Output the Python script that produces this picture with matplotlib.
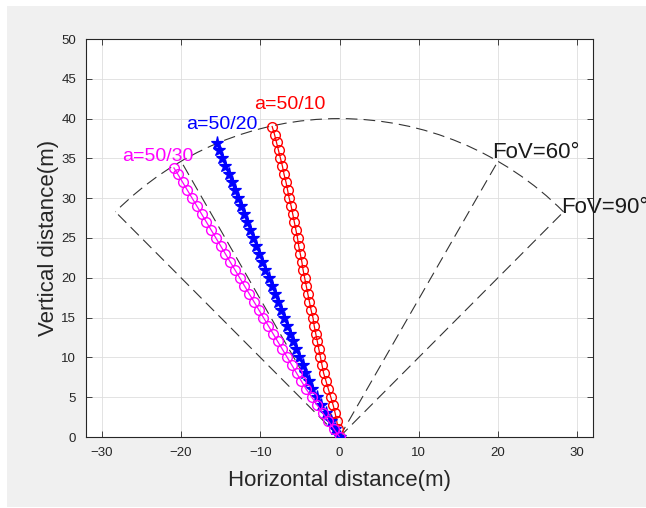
import numpy as np
import matplotlib.pyplot as plt
from matplotlib.patches import Arc, Rectangle

y_red = [0, 1, 2, 3, 4, 5, 6, 7, 8, 9, 10, 11, 12, 13, 14, 15, 16, 17, 18, 19,
         20, 21, 22, 23, 24, 25, 26, 27, 28, 29, 30, 31, 32, 33, 34, 35, 36, 37, 38, 39]
x_red = [0, -0.15, -0.35, -0.55, -0.8, -1.1, -1.4, -1.7, -2.0, -2.2,
         -2.4, -2.6, -2.8, -3.0, -3.2, -3.35, -3.6, -3.8, -4.0, -4.2,
         -4.4, -4.6, -4.75, -4.95, -5.15, -5.3, -5.5, -5.7, -5.9, -6.1,
         -6.35, -6.55, -6.75, -7.0, -7.2, -7.45, -7.7, -7.95, -8.2, -8.5]

y_blue = [0, 1, 2, 3, 4, 5, 6, 7, 8, 9, 10, 11, 12, 13, 14, 15, 16, 17, 18, 19,
          20, 21, 22, 23, 24, 25, 26, 27, 28, 29, 30, 31, 32, 33, 34, 35, 36, 36.9]
x_blue = [0, -0.55, -1.1, -1.7, -2.3, -2.9, -3.45, -3.9, -4.3, -4.65,
          -5.05, -5.45, -5.85, -6.2, -6.6, -7.0, -7.4, -7.8, -8.15, -8.55,
          -8.95, -9.35, -9.75, -10.1, -10.5, -10.9, -11.3, -11.7, -12.05, -12.45,
          -12.85, -13.25, -13.6, -14.0, -14.4, -14.8, -15.15, -15.5]

y_mag = [0, 1, 2, 3, 4, 5, 6, 7, 8, 9, 10, 11, 12, 13, 14, 15, 16, 17,
         18, 19, 20, 21, 22, 23, 24, 25, 26, 27, 28, 29, 30, 31, 32, 33, 33.8]
x_mag = [0, -0.7, -1.4, -2.1, -2.8, -3.5, -4.2, -4.8, -5.4, -6.0,
         -6.6, -7.2, -7.8, -8.4, -9.0, -9.6, -10.2, -10.8, -11.4, -12.0,
         -12.6, -13.2, -13.8, -14.4, -15.0, -15.6, -16.2, -16.8, -17.4, -18.0,
         -18.6, -19.2, -19.8, -20.4, -20.9]

# field of view
fov_radius = 40
fov_angles = [60, 90]

plt.rcParams['font.family'] = ['Liberation Sans', 'DejaVu Sans']

fig = plt.figure(figsize=(6.46, 5.08), dpi=100, facecolor='white')
fig.patches.append(Rectangle((7 / 646, 1 / 508), 1, (508 - 7) / 508,
                             transform=fig.transFigure, facecolor='#f0f0f0',
                             edgecolor='none', zorder=-10))
ax = fig.add_axes([86 / 646, 71 / 508, 507 / 646, 398 / 508])

dash = (0, (10.5, 5.5))
for fov in fov_angles:
    half = np.radians(fov / 2)
    for s in (-1, 1):
        ax.plot([0, s * fov_radius * np.sin(half)], [0, fov_radius * np.cos(half)],
                color='#333333', lw=0.8, linestyle=dash, zorder=3)
ax.add_patch(Arc((0, 0), 2 * fov_radius, 2 * fov_radius, theta1=45, theta2=135,
                 color='#333333', lw=0.8, linestyle=dash, zorder=3))

ax.plot(x_red, y_red, '-o', color='red', mfc='none', ms=7, mew=1.0, lw=0.9, zorder=4)
ax.plot(x_blue, y_blue, '-*', color='blue', ms=9.5, mew=0.9, lw=0.9, zorder=4)
ax.plot(x_mag, y_mag, '-o', color='magenta', mfc='none', ms=7, mew=1.0, lw=0.9, zorder=4)

ax.text(-6.3, 41.8, 'a=50/10', color='red', fontsize=14, ha='center', va='center')
ax.text(-14.8, 39.2, 'a=50/20', color='blue', fontsize=14, ha='center', va='center')
ax.text(-22.9, 35.2, 'a=50/30', color='magenta', fontsize=14, ha='center', va='center')
ax.text(19.3, 35.7, 'FoV=60°', color='#1a1a1a', fontsize=16, ha='left', va='center', clip_on=False)
ax.text(28.0, 28.8, 'FoV=90°', color='#1a1a1a', fontsize=16, ha='left', va='center', clip_on=False)

ax.set_xlim(-32, 32)
ax.set_ylim(0, 50)
ax.set_xticks(np.arange(-30, 31, 10))
ax.set_yticks(np.arange(0, 51, 5))
ax.grid(True, color='#dedede', lw=0.6)
ax.set_axisbelow(True)
ax.tick_params(direction='in', length=4, width=0.6, top=True, right=True,
               labelsize=9.5, colors='#262626', pad=7)
for sp in ax.spines.values():
    sp.set_color('#262626')
    sp.set_linewidth(0.8)

ax.set_xlabel('Horizontal distance(m)', fontsize=16, color='#262626', labelpad=8)
ax.set_ylabel('Vertical distance(m)', fontsize=16, color='#262626', labelpad=2)

fig.savefig('out.png', dpi=100, facecolor=fig.get_facecolor())
